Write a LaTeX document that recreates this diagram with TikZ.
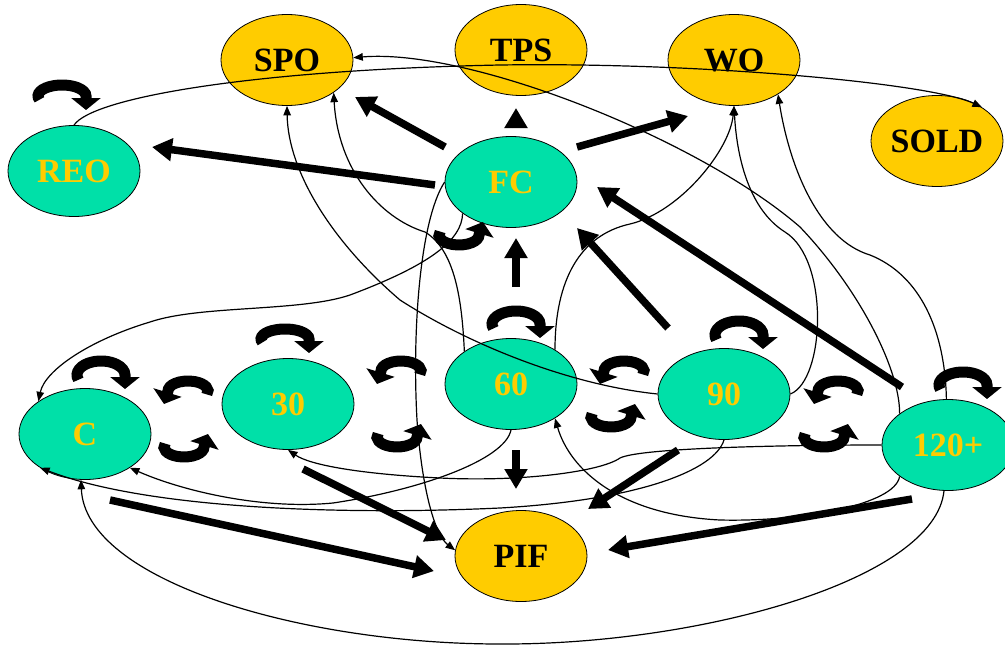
\documentclass[tikz,border=0pt]{standalone}
\usepackage{fontspec}
\setmainfont{Liberation Serif}
\usetikzlibrary{shapes.geometric,arrows.meta}
\definecolor{gold}{RGB}{255,204,0}
\definecolor{aquag}{RGB}{0,224,168}
\newcommand\LoopTop[4]{\draw[loopar] (#1,#2) ++(160:#3 and #4) arc[start angle=160,end angle=360,x radius=#3,y radius=#4] -- ++(0,14);}
\newcommand\LoopLeft[4]{\draw[loopar] (#1,#2) ++(20:#3 and #4) arc[start angle=20,end angle=-180,x radius=#3,y radius=#4] -- ++(-4,13);}
\newcommand\LoopUnder[4]{\draw[loopar] (#1,#2) ++(200:#3 and #4) arc[start angle=200,end angle=0,x radius=#3,y radius=#4] -- ++(4,-13);}
\tikzset{
  ell/.style={ellipse, draw=black, line width=0.8pt, minimum width=132pt, minimum height=91pt, inner sep=0pt, font=\bfseries\fontsize{34}{34}\selectfont},
  ynode/.style={ell, fill=gold, text=black},
  gnode/.style={ell, fill=aquag, text=gold},
  bigar/.style={line width=7.5pt, -{Triangle[width=22pt,length=20pt]}},
  thinar/.style={line width=1.2pt, -{Triangle[width=7.5pt,length=9.5pt]}},
  loopar/.style={line width=11pt, -{Triangle[width=29pt,length=12pt]}}
}
\begin{document}
\begin{tikzpicture}[x=1pt,y=-1pt]
\useasboundingbox (0,0) rectangle (1005,646);
% nodes
\node[ynode] (SPO) at (287,60) {SPO};
\node[ynode] (TPS) at (521,50) {TPS};
\node[ynode] (WO) at (734,60) {WO};
\node[ynode] (SOLD) at (937,141) {SOLD};
\node[gnode] (REO) at (74,171) {REO};
\node[gnode] (FC) at (511,182) {FC};
\node[gnode] (C) at (85,434) {C};
\node[gnode] (n30) at (288,404) {30};
\node[gnode] (n60) at (511,384) {60};
\node[gnode] (n90) at (724,394) {90};
\node[gnode] (n120) at (948,445) {120+};
\node[ynode] (PIF) at (521,556) {PIF};
% thick arrows
\draw[bigar] ([shift={(-76,3)}]FC.center) -- ([shift={(78,-24)}]REO.center);
\draw[bigar] ([shift={(-66,-35)}]FC.center) -- ([shift={(68,37)}]SPO.center);
\draw[bigar] ([shift={(5,-54)}]FC.center) -- ([shift={(-5,58)}]TPS.center);
\draw[bigar] ([shift={(66,-35)}]FC.center) -- ([shift={(-46,56)}]WO.center);
\draw[bigar] ([shift={(5,-97)}]n60.center) -- ([shift={(5,56)}]FC.center);
\draw[bigar] ([shift={(-56,-66)}]n90.center) -- ([shift={(66,46)}]FC.center);
\draw[bigar] ([shift={(-46,-58)}]n120.center) -- ([shift={(86,5)}]FC.center);
\draw[bigar] ([shift={(5,66)}]n60.center) -- ([shift={(-5,-67)}]PIF.center);
\draw[bigar] ([shift={(15,65)}]n30.center) -- ([shift={(-75,-16)}]PIF.center);
\draw[bigar] ([shift={(25,66)}]C.center) -- ([shift={(-87,15)}]PIF.center);
\draw[bigar] ([shift={(-46,56)}]n90.center) -- ([shift={(67,-47)}]PIF.center);
\draw[bigar] ([shift={(-36,54)}]n120.center) -- ([shift={(87,-6)}]PIF.center);
% curved loop arrows
\LoopTop{62}{96}{24}{11}
\LoopTop{101}{375}{24}{14}
\LoopTop{285}{339}{24}{10}
\LoopTop{516}{324}{24}{13}
\LoopTop{739}{335}{24}{14}
\LoopTop{963}{385}{24}{13}
\LoopLeft{188}{391}{20}{10}
\LoopLeft{401}{371}{20}{10}
\LoopLeft{624}{371}{20}{10}
\LoopLeft{838}{391}{20}{10}
\LoopUnder{184}{447}{20}{10}
\LoopUnder{397}{437}{20}{10}
\LoopUnder{611}{417}{20}{10}
\LoopUnder{824}{437}{20}{10}
\LoopUnder{459}{235}{20}{10}
% thin connectors
\draw[thinar] (REO.north) .. controls (92,98) and (250,70) .. (500,65) .. controls (700,62) and (930,83) .. (SOLD.37);
\draw[thinar] (n120.147) .. controls (900,370) and (860,290) .. (800,227) .. controls (700,140) and (470,48) .. (SPO.2);
\draw[thinar] (n90.west) .. controls (570,385) and (470,345) .. (400,300) .. controls (330,240) and (288,170) .. (SPO.south);
\draw[thinar] (n60.145) .. controls (462,300) and (455,250) .. (425,232) .. controls (380,218) and (338,170) .. (SPO.-35);
\draw[thinar] (n60.38) .. controls (555,280) and (580,235) .. (630,224) .. controls (680,212) and (730,150) .. (WO.south);
\draw[thinar] (n90.east) .. controls (825,380) and (830,260) .. (785,232) .. controls (750,210) and (737,160) .. (WO.south);
\draw[thinar] (n120.92) .. controls (945,330) and (920,275) .. (870,255) .. controls (820,240) and (790,170) .. (WO.-38);
\draw[thinar] (FC.west) .. controls (420,220) and (412,330) .. (417,420) .. controls (422,490) and (435,535) .. (PIF.175);
\draw[thinar] (FC.213) .. controls (462,240) and (430,265) .. (350,295) .. controls (300,312) and (200,305) .. (150,322) .. controls (90,340) and (45,370) .. (C.145);
\draw[thinar] (n60.south) .. controls (505,460) and (420,490) .. (333,503) .. controls (260,510) and (180,490) .. (C.-37);
\draw[thinar] (n90.south) .. controls (715,470) and (640,500) .. (500,508) .. controls (350,515) and (150,510) .. (C.217);
\draw[thinar] (n120.-95) .. controls (935,580) and (700,645) .. (500,644) .. controls (300,644) and (85,580) .. (C.-95);
\draw[thinar] (n120.west) .. controls (780,445) and (640,448) .. (620,458) .. controls (600,472) and (520,482) .. (440,478) .. controls (360,474) and (310,465) .. (n30.south);
\draw[thinar] (n120.213) .. controls (895,505) and (800,522) .. (720,520) .. controls (620,515) and (570,470) .. (n60.-38);
\end{tikzpicture}
\end{document}
